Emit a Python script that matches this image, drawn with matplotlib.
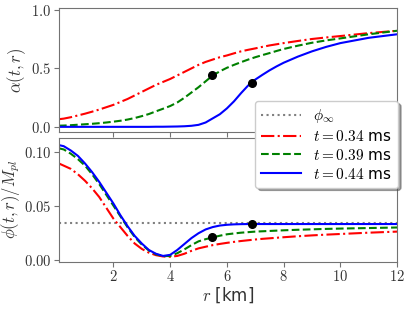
import numpy as np
import matplotlib
matplotlib.use("Agg")
import matplotlib.pyplot as plt

plt.rcParams['mathtext.fontset'] = 'cm'
plt.rcParams['font.family'] = 'DejaVu Sans'

# radius grid [km]
r = [0.08, 0.25, 0.5, 0.75, 1.0, 1.25, 1.5, 1.75, 2.0, 2.25, 2.5, 2.75, 3.0, 3.25,
     3.5, 3.75, 4.0, 4.25, 4.5, 4.75, 5.0, 5.25, 5.5, 5.75, 6.0, 6.25, 6.5, 6.75,
     7.0, 7.25, 7.5, 7.75, 8.0, 8.5, 9.0, 9.5, 10.0, 11.0, 12.0]

# lapse alpha(t, r)
alpha_034 = [0.068, 0.073, 0.085, 0.100, 0.115, 0.132, 0.150, 0.170, 0.19, 0.215, 0.24, 0.27,
             0.30, 0.33, 0.36, 0.385, 0.41, 0.44, 0.47, 0.50, 0.53, 0.555, 0.575, 0.595,
             0.61, 0.628, 0.645, 0.658, 0.67, 0.683, 0.695, 0.705, 0.715, 0.733, 0.75,
             0.763, 0.775, 0.80, 0.82]
alpha_039 = [0.013, 0.014, 0.017, 0.021, 0.025, 0.029, 0.034, 0.040, 0.047, 0.055, 0.065, 0.078,
             0.094, 0.112, 0.135, 0.157, 0.18, 0.21, 0.25, 0.295, 0.34, 0.39, 0.44, 0.475,
             0.505, 0.53, 0.553, 0.575, 0.595, 0.613, 0.63, 0.648, 0.665, 0.693, 0.718,
             0.738, 0.755, 0.79, 0.82]
alpha_044 = [0.003, 0.003, 0.003, 0.003, 0.003, 0.003, 0.003, 0.003, 0.003, 0.003, 0.003, 0.003,
             0.003, 0.003, 0.004, 0.004, 0.005, 0.006, 0.008, 0.012, 0.02, 0.04, 0.075, 0.11,
             0.16, 0.22, 0.29, 0.355, 0.405, 0.445, 0.483, 0.517, 0.548, 0.60, 0.645,
             0.683, 0.715, 0.76, 0.79]

# scalar field phi(t, r)/M_pl
phi_034 = [0.089, 0.087, 0.084, 0.079, 0.073, 0.066, 0.058, 0.048, 0.038, 0.030, 0.022, 0.015,
           0.010, 0.0065, 0.0042, 0.003, 0.0027, 0.0035, 0.0055, 0.0082, 0.0105, 0.012,
           0.0135, 0.0146, 0.0156, 0.0165, 0.0173, 0.018, 0.0187, 0.0193, 0.0198, 0.0203,
           0.0208, 0.0217, 0.0225, 0.0232, 0.0238, 0.025, 0.026]
phi_039 = [0.103, 0.102, 0.098, 0.093, 0.087, 0.079, 0.070, 0.060, 0.050, 0.040, 0.030, 0.021,
           0.014, 0.0085, 0.005, 0.0033, 0.0035, 0.006, 0.0095, 0.0135, 0.017, 0.019,
           0.0206, 0.0222, 0.0235, 0.0243, 0.025, 0.0255, 0.026, 0.0263, 0.0266, 0.0269,
           0.0272, 0.0277, 0.0281, 0.0285, 0.0288, 0.0293, 0.0298]
phi_044 = [0.106, 0.105, 0.101, 0.096, 0.089, 0.081, 0.072, 0.062, 0.052, 0.041, 0.031, 0.022,
           0.015, 0.009, 0.0055, 0.0035, 0.0045, 0.009, 0.0145, 0.020, 0.0245, 0.028,
           0.0302, 0.0316, 0.0323, 0.0327, 0.0329, 0.033, 0.033, 0.033, 0.033, 0.033,
           0.033, 0.033, 0.033, 0.033, 0.033, 0.033, 0.033]
phi_inf = 0.034

# marked points (r, value)
dots_alpha = [(5.46, 0.44), (6.87, 0.38)]
dots_phi = [(5.46, 0.0206), (6.87, 0.033)]

labels = [r'$t=0.34$ ms', r'$t=0.39$ ms', r'$t=0.44$ ms']
styles = [('r', '-.'), ('g', '--'), ('b', '-')]

fig = plt.figure(figsize=(4.15, 3.11), dpi=100)
ax1 = fig.add_axes([0.142, 0.577, 0.815, 0.396])
ax2 = fig.add_axes([0.142, 0.159, 0.815, 0.397], sharex=ax1)

ax2.axhline(phi_inf, color='gray', ls=':', lw=1.5, label=r'$\phi_\infty$')
for a, p, (c, ls), lab in zip([alpha_034, alpha_039, alpha_044],
                              [phi_034, phi_039, phi_044], styles, labels):
    ax1.plot(r, a, color=c, ls=ls, lw=1.5)
    ax2.plot(r, p, color=c, ls=ls, lw=1.5, label=lab)

for x, y in dots_alpha:
    ax1.plot(x, y, 'ko', ms=5.5)
for x, y in dots_phi:
    ax2.plot(x, y, 'ko', ms=5.5)

ax1.set_xlim(0.08, 12)
ax1.set_ylim(-0.037, 1.01)
ax2.set_ylim(-0.0017, 0.1125)

ax1.set_yticks([0.0, 0.5, 1.0])
ax1.set_yticklabels([r'$0.0$', r'$0.5$', r'$1.0$'])
ax2.set_yticks([0.0, 0.05, 0.10])
ax2.set_yticklabels([r'$0.00$', r'$0.05$', r'$0.10$'])
ax2.set_xticks([2, 4, 6, 8, 10, 12])
ax2.set_xticklabels([r'$%d$' % v for v in [2, 4, 6, 8, 10, 12]])
plt.setp(ax1.get_xticklabels(), visible=False)

for ax in (ax1, ax2):
    for sp in ax.spines.values():
        sp.set_color('0.45')
    ax.tick_params(colors='0.45', labelcolor='0.2', labelsize=10.5, pad=2)

ax1.set_ylabel(r'$\alpha(t,r)$', fontsize=12, color='0.2', labelpad=2)
ax2.set_ylabel(r'$\phi(t,r)/M_{pl}$', fontsize=12, color='0.2', labelpad=1)
ax2.set_xlabel(r'$r$ [km]', fontsize=12, color='0.2', labelpad=1)

fig.legend(*ax2.get_legend_handles_labels(), loc='upper right',
           bbox_to_anchor=(0.978, 0.70), fontsize=11, handlelength=2.6,
           shadow=True, framealpha=1.0, borderpad=0.4, labelspacing=0.25)

fig.savefig('out.png', dpi=100)
